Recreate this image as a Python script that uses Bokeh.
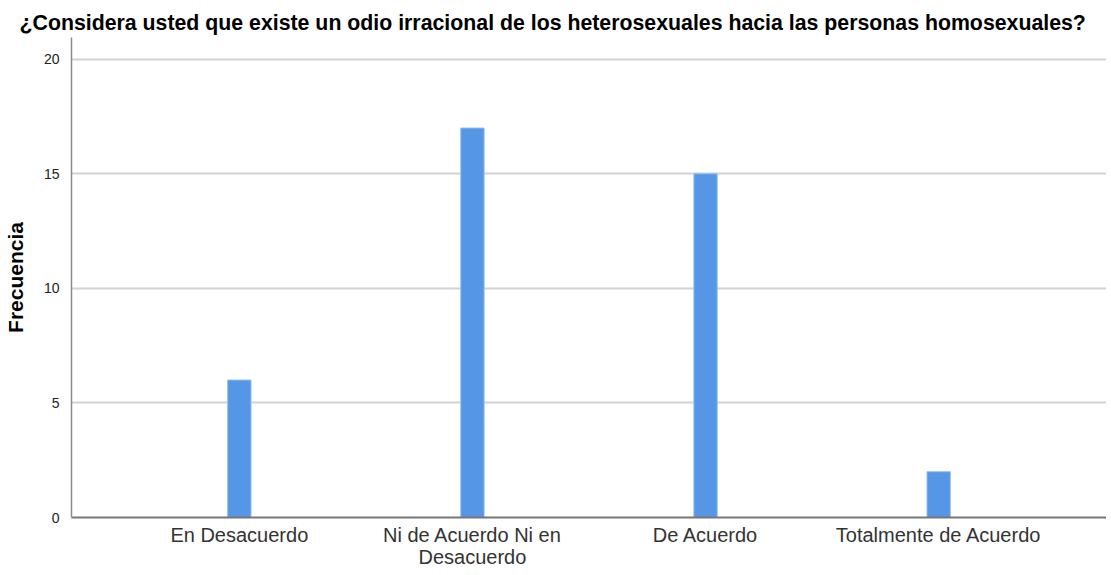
from bokeh.plotting import figure
from bokeh.models import FactorRange, Range1d, FixedTicker
from bokeh.embed import file_html
from bokeh.resources import INLINE

categories = ["En Desacuerdo", "Ni de Acuerdo Ni en\nDesacuerdo", "De Acuerdo", "Totalmente de Acuerdo"]
counts = [6, 17, 15, 2]
y_ticks = [0, 5, 10, 15, 20]

FONT = "Liberation Sans"

p = figure(frame_width=1035, frame_height=480, output_backend="svg", toolbar_location=None,
           x_range=FactorRange(*categories, range_padding=0.22, range_padding_units="absolute"),
           y_range=Range1d(0, 20.95),
           title="¿Considera usted que existe un odio irracional de los heterosexuales hacia las personas homosexuales?",
           min_border_left=66, min_border_right=0, min_border_top=37, min_border_bottom=0)

p.vbar(x=categories, top=counts, width=0.1, fill_color="#5596E6", line_color="#93BDF0", line_width=1)

p.title.text_font = FONT
p.title.text_font_size = "21.3px"
p.title.text_font_style = "bold"
p.title.text_color = "#000000"
p.title.align = "left"
p.title.offset = -52
p.title.standoff = 5

p.outline_line_color = None
p.background_fill_color = "white"
p.border_fill_color = "white"

p.xgrid.grid_line_color = None
p.ygrid.grid_line_color = "#D2D2D2"
p.ygrid.grid_line_width = 2
p.yaxis.ticker = FixedTicker(ticks=y_ticks)

p.yaxis.axis_label = "Frecuencia"
p.yaxis.axis_label_text_font = FONT
p.yaxis.axis_label_text_font_size = "21px"
p.yaxis.axis_label_text_font_style = "bold"
p.yaxis.axis_label_text_color = "#000000"
p.yaxis.axis_label_standoff = 14
p.yaxis.major_label_text_font = FONT
p.yaxis.major_label_text_font_size = "14px"
p.yaxis.major_label_text_color = "#222222"
p.yaxis.major_tick_line_color = None
p.yaxis.minor_tick_line_color = None
p.yaxis.major_label_standoff = 6
p.yaxis.axis_line_color = "#8A8A8A"
p.yaxis.axis_line_width = 1.5

p.xaxis.major_label_text_font = FONT
p.xaxis.major_label_text_font_size = "20px"
p.xaxis.major_label_text_color = "#333333"
p.xaxis.major_tick_line_color = None
p.xaxis.major_tick_out = 0
p.xaxis.major_label_standoff = 6
p.xaxis.axis_line_color = "#777777"
p.xaxis.axis_line_width = 2
p.xaxis.major_label_text_line_height = 1.0

open("out.html", "w").write(file_html(p, INLINE))
